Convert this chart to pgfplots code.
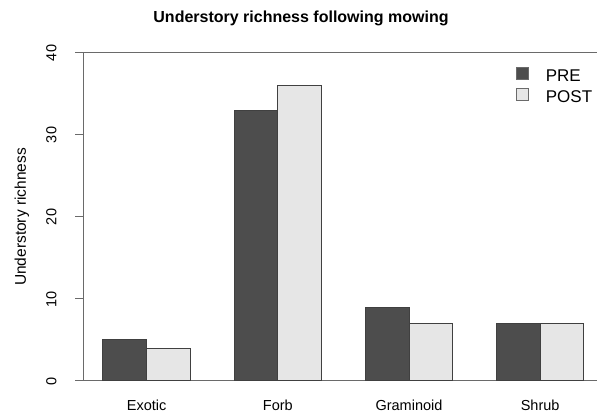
\documentclass[border=0pt]{standalone}
\usepackage{fontspec}
\setmainfont{Liberation Sans}
\usepackage{pgfplots}
\pgfplotsset{compat=1.18}
\definecolor{preC}{HTML}{4D4D4D}
\definecolor{postC}{HTML}{E6E6E6}
\definecolor{axC}{HTML}{6A6A6A}
\begin{document}
\begin{tikzpicture}
\begin{axis}[
  scale only axis,
  width=513bp, height=328bp,
  xmin=0.566, xmax=12.30,
  ymin=0, ymax=40,
  axis x line*=box, axis y line*=left,
  axis line style={-, draw=axC, line width=1bp},
  ytick={0,10,20,30,40},
  xtick={2,5,8,11},
  xticklabels={Exotic,Forb,Graminoid,Shrub},
  xtick style={draw=none},
  xticklabel pos=lower,
  ytick style={draw=axC, line width=1bp},
  tick align=outside,
  major tick length=9bp,
  /pgf/number format/assume math mode=true,
  yticklabel style={rotate=90, anchor=south, font=\fontsize{14.5bp}{17bp}\selectfont, yshift=15bp},
  xticklabel style={font=\fontsize{14.5bp}{17bp}\selectfont, anchor=base, yshift=-21bp},
  ylabel={Understory richness},
  ylabel style={at={(axis description cs:-0.1209,0.5)}, anchor=center, font=\fontsize{15.5bp}{18bp}\selectfont},
  title={Understory richness following mowing},
  title style={at={(axis description cs:0.423,1.0884)}, anchor=center, yshift=0pt, font=\fontsize{16bp}{19bp}\selectfont\bfseries},
  legend style={at={(axis description cs:0.836,0.965)}, anchor=north west, draw=none, fill=none,
    font=\fontsize{17bp}{20bp}\selectfont, column sep=17bp, row sep=0pt,
    nodes={inner sep=0pt, text height=13bp, text depth=7bp}},
  legend cell align=left,
  legend image code/.code={\draw[#1, draw=axC, line width=0.8bp] (0bp,-1bp) rectangle (12bp,11bp);},
  clip=false,
]
\addplot[ybar, bar width=1, bar shift=0pt, fill=preC, draw=black!75, line width=1bp]
  coordinates {(1.5,5) (4.5,33) (7.5,9) (10.5,7)};
\addlegendentry{PRE}
\addplot[ybar, bar width=1, bar shift=0pt, fill=postC, draw=black!75, line width=1bp]
  coordinates {(2.5,4) (5.5,36) (8.5,7) (11.5,7)};
\addlegendentry{POST}
\coordinate (ll) at (rel axis cs:0,0);
\coordinate (ur) at (rel axis cs:1,1);
\end{axis}
\pgfresetboundingbox
\useasboundingbox ([xshift=-84bp,yshift=-34bp]ll) rectangle ([yshift=53bp]ur);
\end{tikzpicture}
\end{document}
